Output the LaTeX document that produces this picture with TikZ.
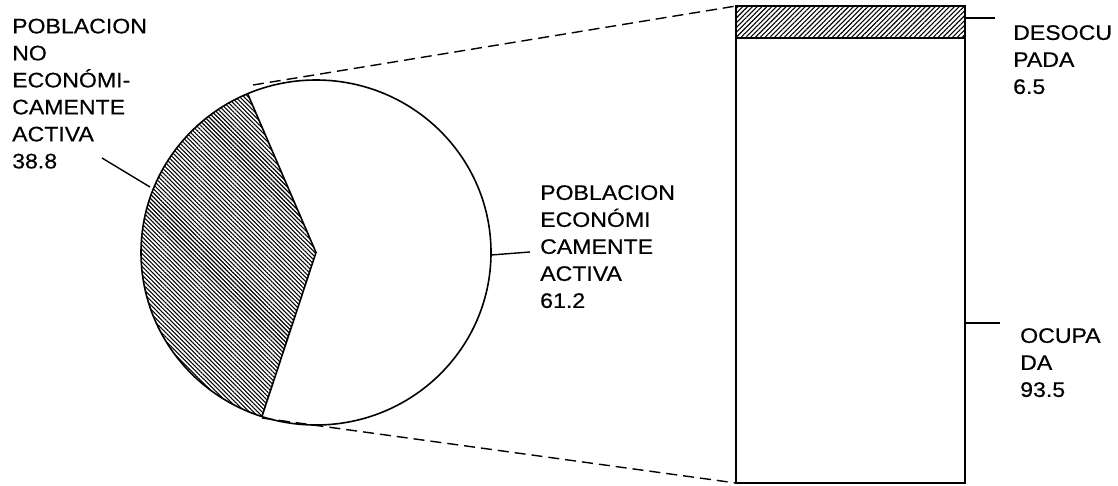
\documentclass[tikz,border=0pt]{standalone}
\usepackage{fontspec}
\setmainfont[FakeStretch=1.1,FakeBold=0.4]{Liberation Sans}
\usetikzlibrary{patterns.meta}
\begin{document}
\begin{tikzpicture}[x=1pt,y=1pt,
  lbl/.style={anchor=north west,inner sep=0pt,align=left,font=\fontsize{21}{27}\selectfont},
  leader/.style={line width=1.4pt},
  zoomline/.style={dash pattern=on 11pt off 6pt,line width=1.4pt},
  outline/.style={line width=1.6pt},
  hatchpie/.style={pattern={Lines[angle=-45,distance=3pt,line width=1.1pt]}},
  hatchbar/.style={pattern={Lines[angle=45,distance=3.4pt,line width=1.1pt]}}]
\useasboundingbox (0,0) rectangle (1118,-485);
\coordinate (c) at (316,-252.5);
\fill[hatchpie] (c) -- ++(113:175 and 172.5) arc[start angle=113,end angle=252,x radius=175,y radius=172.5] -- cycle;
\draw[outline] (c) ++(113:175 and 172.5) -- (c) -- ++(252:175 and 172.5);
\draw[outline] (c) ellipse[x radius=175,y radius=172.5];
\coordinate (bartl) at (736,-6);
\coordinate (barbl) at (736,-483);
\coordinate (barbr) at (965,-483);
\coordinate (barsl) at (736,-38);
\coordinate (barsr) at (965,-38);
\fill[hatchbar] (bartl) rectangle (barsr);
\draw[outline] (bartl) rectangle (barbr);
\draw[outline] (barsl) -- (barsr);
\coordinate (zt) at (253,-85);
\coordinate (zb) at (262,-418);
\draw[zoomline] (zt) -- (bartl);
\draw[zoomline] (zb) -- (barbl);
\node[lbl] (pnea) at (12,-18.5) {POBLACION\\NO\\ECONÓMI-\\CAMENTE\\ACTIVA\\38.8};
\node[lbl] (pea) at (540,-185) {POBLACION\\ECONÓMI\\CAMENTE\\ACTIVA\\61.2};
\node[lbl] (desoc) at (1013,-25) {DESOCU\\PADA\\6.5};
\node[lbl] (ocup) at (1020,-328) {OCUPA\\DA\\93.5};
\coordinate (pnea a) at (102,-158);
\coordinate (pnea b) at (150,-187);
\coordinate (pea a) at (491,-255);
\coordinate (pea b) at (530,-252);
\coordinate (desoc a) at (965,-18);
\coordinate (desoc b) at (995,-18);
\coordinate (ocup a) at (965,-323);
\coordinate (ocup b) at (1000,-323);
\draw[leader] (pnea a) -- (pnea b);
\draw[leader] (pea a) -- (pea b);
\draw[leader] (desoc a) -- (desoc b);
\draw[leader] (ocup a) -- (ocup b);
\end{tikzpicture}
\end{document}
